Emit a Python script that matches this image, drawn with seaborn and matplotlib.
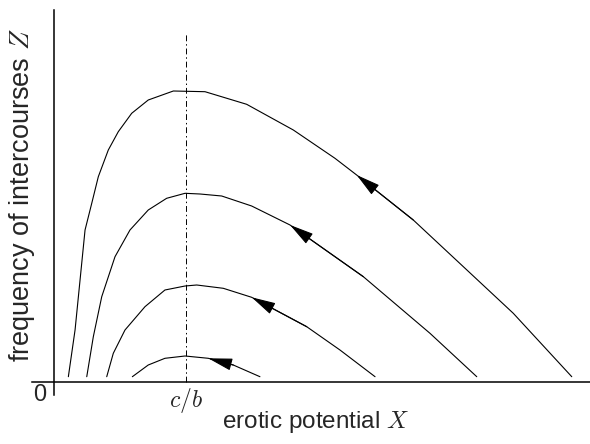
import numpy as np
import pandas as pd
import matplotlib
matplotlib.use('Agg')
import matplotlib.pyplot as plt
import seaborn as sns

# orbits; X in units of c/b, Z in arbitrary units
x1 = [0.107, 0.158, 0.196, 0.234, 0.285, 0.335, 0.411, 0.487, 0.589, 0.715, 0.906,
      1.147, 1.464, 1.819, 2.136, 2.301, 2.732, 3.113, 3.493, 3.938]
z1 = [0.05, 0.517, 1.017, 1.517, 1.784, 2.05, 2.317, 2.50, 2.684, 2.817, 2.907,
      2.90, 2.774, 2.517, 2.234, 2.067, 1.617, 1.15, 0.684, 0.05]
x2 = [0.247, 0.297, 0.361, 0.462, 0.576, 0.715, 0.855, 0.995, 1.109, 1.274, 1.502,
      1.794, 2.352, 2.859, 3.215]
z2 = [0.05, 0.45, 0.85, 1.25, 1.517, 1.717, 1.834, 1.884, 1.877, 1.857, 1.757,
      1.567, 1.05, 0.484, 0.05]
x3 = [0.399, 0.449, 0.538, 0.690, 0.842, 0.995, 1.084, 1.286, 1.502, 1.921, 2.174, 2.441]
z3 = [0.05, 0.284, 0.517, 0.75, 0.917, 0.957, 0.967, 0.934, 0.844, 0.55, 0.317, 0.05]
x4 = [0.594, 0.715, 0.842, 0.995, 1.172, 1.362, 1.565]
z4 = [0.05, 0.167, 0.234, 0.257, 0.234, 0.167, 0.05]
arrow_tip = [15, 11, 8, 4]   # index of the arrow head on each orbit
c_over_b = 1.0

curves = [(x1, z1), (x2, z2), (x3, z3), (x4, z4)]
df = pd.concat([pd.DataFrame({'X': x, 'Z': z, 'orbit': i}) for i, (x, z) in enumerate(curves)])

sns.set_style('white')
plt.rcParams['font.family'] = ['Liberation Sans', 'DejaVu Sans']
plt.rcParams['mathtext.fontset'] = 'cm'

fig = plt.figure(figsize=(5.9, 4.44), dpi=100)
ax = fig.add_axes([0, 0, 1, 1])
ax.set_xlim(-0.4132, 4.0768)
ax.set_ylim(-0.623, 3.817)

sns.lineplot(data=df, x='X', y='Z', units='orbit', estimator=None, sort=False,
             color='black', lw=0.8, ax=ax)

# arrows showing the direction of motion
for (x, z), k in zip(curves, arrow_tip):
    ax.annotate('', xy=(x[k], z[k]), xytext=(x[k + 1], z[k + 1]),
                arrowprops=dict(arrowstyle='-|>,head_length=1.5,head_width=0.38',
                                color='black', lw=0.8, shrinkA=0, shrinkB=0,
                                mutation_scale=10))

ax.axvline(c_over_b, ymin=0.1403, ymax=0.9257, color='black', lw=0.7,
           ls=(0, (6, 3, 1.5, 3)))

for s in ['top', 'right']:
    ax.spines[s].set_visible(False)
ax.spines['left'].set_position(('data', 0))
ax.spines['bottom'].set_position(('data', 0))
ax.spines['left'].set_bounds(-0.133, 3.717)
ax.spines['bottom'].set_bounds(-0.170, 4.08)
for s in ['left', 'bottom']:
    ax.spines[s].set_linewidth(1.1)
    ax.spines[s].set_color('black')
ax.set_xticks([])
ax.set_yticks([])
ax.set_xlabel('')
ax.set_ylabel('')

ax.text(-0.113, -0.133, '0', fontsize=17, ha='center', va='center')
ax.text(c_over_b, -0.04, '$c/b$', fontsize=17, ha='center', va='top')
ax.text(1.992, -0.463, 'erotic potential $X$', fontsize=17.5, ha='center', va='baseline')
ax.text(-0.246, 1.867, 'frequency of intercourses $Z$', fontsize=19.5, ha='center',
        va='center', rotation=90)

fig.savefig('out.png', dpi=100)
